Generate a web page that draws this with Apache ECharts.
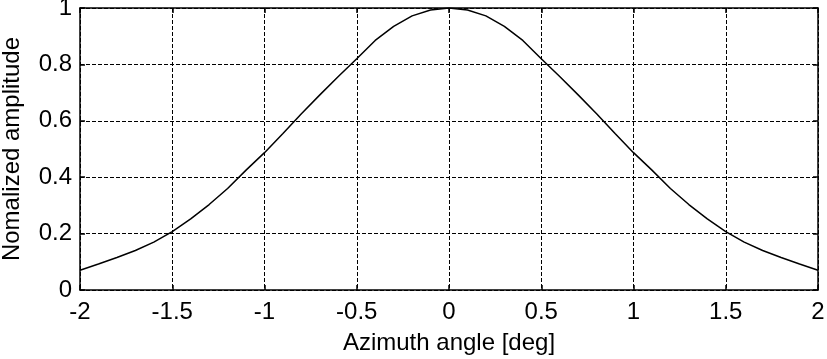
<!DOCTYPE html>
<html>
<head>
<meta charset="utf-8">
<script src="https://cdn.jsdelivr.net/npm/echarts@6/dist/echarts.min.js"></script>
<style>
  html, body { margin: 0; padding: 0; background: #fff; }
  #main { width: 827px; height: 359px; }
</style>
</head>
<body>
<div id="main"></div>
<script>
// azimuth angle [deg]
const angles = [-2.0, -1.9, -1.8, -1.7, -1.6, -1.5, -1.4, -1.3, -1.2, -1.1, -1.0,
  -0.9, -0.8, -0.7, -0.6, -0.5, -0.4, -0.3, -0.2, -0.1, 0.0,
  0.1, 0.2, 0.3, 0.4, 0.5, 0.6, 0.7, 0.8, 0.9, 1.0,
  1.1, 1.2, 1.3, 1.4, 1.5, 1.6, 1.7, 1.8, 1.9, 2.0]
// normalized amplitude
const amplitude = [0.070, 0.092, 0.115, 0.140, 0.170, 0.207, 0.252, 0.303, 0.360, 0.425, 0.487,
  0.555, 0.625, 0.692, 0.757, 0.820, 0.885, 0.935, 0.972, 0.993, 1.000,
  0.993, 0.972, 0.935, 0.885, 0.820, 0.757, 0.692, 0.625, 0.555, 0.487,
  0.425, 0.360, 0.303, 0.252, 0.207, 0.170, 0.140, 0.115, 0.092, 0.070]

const xTicks = { min: -2, max: 2, interval: 0.5 }
const yTicks = { min: 0, max: 1, interval: 0.2 }

const font = 'Liberation Sans, Arial, sans-serif'
const gridLine = { show: true, lineStyle: { color: '#000', type: [4, 2], width: 1 } }
const frame = { show: true, onZero: false, lineStyle: { color: '#000', width: 1.5 } }
const tickIn = { show: true, inside: true, length: 5, lineStyle: { color: '#000', width: 1.5 } }

const chart = echarts.init(document.getElementById('main'))
chart.setOption({
  animation: false,
  grid: { left: 80, right: 9, top: 8, bottom: 69, outerBoundsMode: 'none', containLabel: false },
  xAxis: [
    {
      type: 'value',
      ...xTicks,
      position: 'bottom',
      name: 'Azimuth angle [deg]',
      nameLocation: 'middle',
      nameGap: 41,
      nameTextStyle: { color: '#000', fontSize: 24, fontFamily: font },
      axisLine: frame,
      axisTick: tickIn,
      splitLine: gridLine,
      axisLabel: { color: '#000', fontSize: 24, fontFamily: font, margin: 10 }
    },
    {
      type: 'value',
      ...xTicks,
      position: 'top',
      axisLine: frame,
      axisTick: tickIn,
      splitLine: { show: false },
      axisLabel: { show: false }
    }
  ],
  yAxis: [
    {
      type: 'value',
      ...yTicks,
      position: 'left',
      name: 'Nomalized amplitude',
      nameLocation: 'middle',
      nameGap: 56,
      nameTextStyle: { color: '#000', fontSize: 24, fontFamily: font },
      axisLine: frame,
      axisTick: tickIn,
      splitLine: gridLine,
      axisLabel: { color: '#000', fontSize: 24, fontFamily: font, margin: 8 }
    },
    {
      type: 'value',
      ...yTicks,
      position: 'right',
      axisLine: frame,
      axisTick: tickIn,
      splitLine: { show: false },
      axisLabel: { show: false }
    }
  ],
  series: [
    {
      type: 'line',
      xAxisIndex: 0,
      yAxisIndex: 0,
      data: angles.map((a, i) => [a, amplitude[i]]),
      showSymbol: false,
      lineStyle: { color: '#000', width: 1.5 }
    }
  ]
})
</script>
</body>
</html>
